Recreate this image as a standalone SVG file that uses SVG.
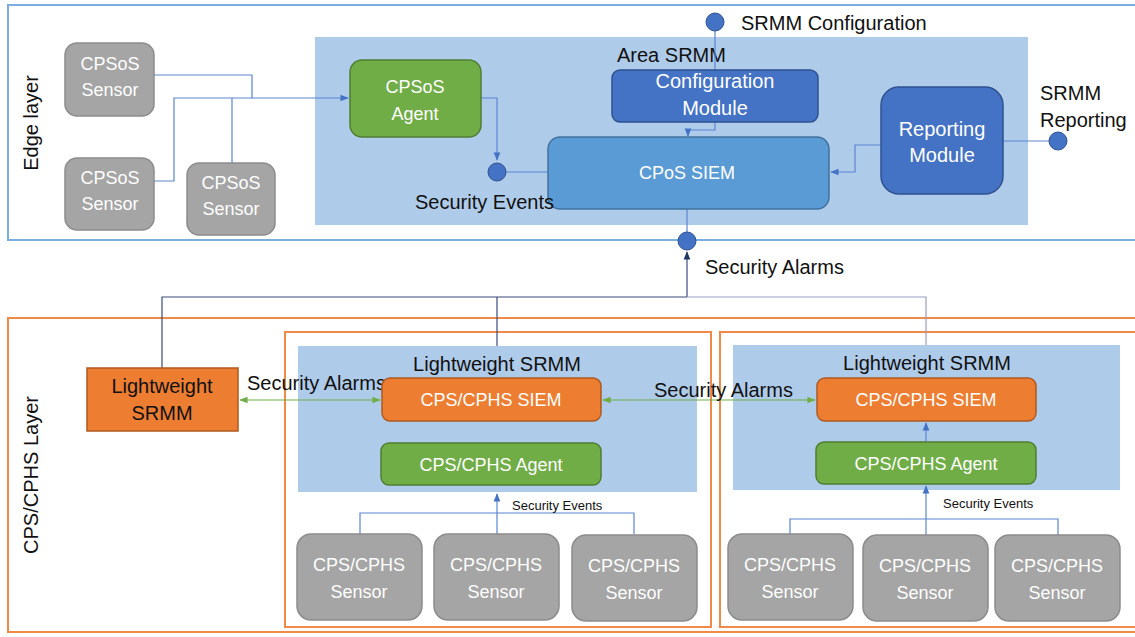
<svg xmlns="http://www.w3.org/2000/svg" width="1135" height="637" viewBox="0 0 1135 637">
<defs>
<marker id="ab" viewBox="0 0 10 10" refX="9" refY="5" markerWidth="7" markerHeight="7" orient="auto-start-reverse"><path d="M0,1 L10,5 L0,9 z" fill="#4472c4"/></marker>
<marker id="an" viewBox="0 0 10 10" refX="9" refY="5" markerWidth="7" markerHeight="7" orient="auto-start-reverse"><path d="M0,1 L10,5 L0,9 z" fill="#203864"/></marker>
<marker id="ag" viewBox="0 0 10 10" refX="9" refY="5" markerWidth="7" markerHeight="7" orient="auto-start-reverse"><path d="M0,1 L10,5 L0,9 z" fill="#70ad47"/></marker>
</defs>
<style>
text{font-family:"Liberation Sans",Arial,sans-serif;}
.w{fill:#fff;font-size:18px;text-anchor:middle;}
.w20{fill:#fff;font-size:20px;text-anchor:middle;}
.k{fill:#111;font-size:20px;}
.kc{fill:#111;font-size:20px;text-anchor:middle;}
.gray{fill:#a5a5a5;stroke:#8c8c8c;stroke-width:1.5;}
.green{fill:#70ad47;stroke:#507e32;stroke-width:1.5;}
.dblue{fill:#4472c4;stroke:#2f528f;stroke-width:1.5;}
.mblue{fill:#5b9bd5;stroke:#41719c;stroke-width:1.5;}
.orange{fill:#ed7d31;stroke:#ae5a21;stroke-width:1.5;}
.panel{fill:#afcbea;}
.c{fill:none;stroke:#5b86d0;stroke-width:1.2;}
.cg{fill:none;stroke:#70ad47;stroke-width:1.2;}
.cn{fill:none;stroke:#3b4a7a;stroke-width:1.2;}
.cl{fill:none;stroke:#9a9fc0;stroke-width:1.2;}
.dot{fill:#4472c4;stroke:#2f528f;stroke-width:1;}
</style>
<rect width="1135" height="637" fill="#fff"/>

<g id="edge-layer">
<rect x="8" y="5" width="1140" height="235" fill="none" stroke="#7aaee0" stroke-width="2"/>
<text class="k" transform="translate(38,123) rotate(-90)" text-anchor="middle">Edge layer</text>
</g>
<g id="area-srmm">
<rect class="panel" x="315" y="37" width="713" height="188"/>
<text class="k" x="617" y="62">Area SRMM</text>
</g>

<g id="cps-layer">
<rect x="8" y="318" width="1140" height="314" fill="none" stroke="#f08a48" stroke-width="2"/>
<text class="k" transform="translate(38,475) rotate(-90)" text-anchor="middle">CPS/CPHS Layer</text>
</g>
<g id="cps-box-1">
<rect x="285" y="332" width="426" height="295" fill="none" stroke="#f08a48" stroke-width="2"/>
<rect class="panel" x="298" y="346" width="399" height="146"/>
<text class="kc" x="497" y="371">Lightweight SRMM</text>
</g>
<g id="cps-box-2">
<rect x="720" y="332" width="430" height="295" fill="none" stroke="#f08a48" stroke-width="2"/>
<rect class="panel" x="733" y="345" width="387" height="145"/>
<text class="kc" x="927" y="370">Lightweight SRMM</text>
</g>

<g id="connectors">
<path class="c" d="M154,75 H252 V98"/>
<path class="c" d="M154,181 H174 V98 H348" marker-end="url(#ab)"/>
<path class="c" d="M232,163 V98"/>
<path class="c" d="M481,98 H497 V160" marker-end="url(#ab)"/>
<path class="c" d="M506,172 H548"/>
<path class="c" d="M715,31 V70"/>
<path class="c" d="M715,122 V130 H688 V136" marker-end="url(#ab)"/>
<path class="c" d="M881,145 H855 V172 H831" marker-end="url(#ab)"/>
<path class="c" d="M1003,141 H1049"/>
<path class="c" d="M687,209 V232"/>
<path class="cn" d="M687,297 V252" marker-end="url(#an)"/>
<path class="cn" d="M162,368 V297 H687"/>
<path class="cn" d="M497,346 V297"/>
<path class="cl" d="M687,297 H926 V345"/>
<path class="cg" d="M240,400 H380" marker-start="url(#ag)" marker-end="url(#ag)"/>
<path class="cg" d="M603,400 H815" marker-start="url(#ag)" marker-end="url(#ag)"/>
<path class="c" d="M926,442 V423" marker-end="url(#ab)"/>
<path class="c" d="M360,534 V513 H634 V534"/>
<path class="c" d="M497,534 V494" marker-end="url(#ab)"/>
<path class="c" d="M790,535 V519 H1058 V535"/>
<path class="c" d="M926,535 V486" marker-end="url(#ab)"/>
</g>

<g id="cpsos-sensor-1"><rect class="gray" x="65" y="43" width="89" height="73" rx="12"/><text class="w" x="110" y="70">CPSoS</text><text class="w" x="110" y="96">Sensor</text></g>
<g id="cpsos-sensor-2"><rect class="gray" x="65" y="158" width="89" height="72" rx="12"/><text class="w" x="110" y="184">CPSoS</text><text class="w" x="110" y="210">Sensor</text></g>
<g id="cpsos-sensor-3"><rect class="gray" x="187" y="163" width="88" height="72" rx="12"/><text class="w" x="231" y="189">CPSoS</text><text class="w" x="231" y="215">Sensor</text></g>
<g id="cpsos-agent"><rect class="green" x="350" y="60" width="131" height="77" rx="12"/><text class="w" x="415" y="93">CPSoS</text><text class="w" x="415" y="120">Agent</text></g>
<g id="config-module"><rect class="dblue" x="612" y="70" width="206" height="52" rx="8"/><text class="w20" x="715" y="88">Configuration</text><text class="w20" x="715" y="115">Module</text></g>
<g id="cpos-siem"><rect class="mblue" x="548" y="137" width="281" height="72" rx="12"/><text class="w" x="687" y="179">CPoS SIEM</text></g>
<g id="reporting-module"><rect class="dblue" x="881" y="87" width="122" height="107" rx="18"/><text class="w20" x="942" y="136">Reporting</text><text class="w20" x="942" y="162">Module</text></g>

<g id="srmm-config"><circle class="dot" cx="715" cy="22" r="9"/><text class="k" x="741" y="30">SRMM Configuration</text></g>
<g id="srmm-reporting"><circle class="dot" cx="1058" cy="141" r="9"/><text class="k" x="1040" y="100">SRMM</text><text class="k" x="1040" y="127">Reporting</text></g>
<g id="security-events-port"><circle class="dot" cx="497" cy="172" r="9"/><text class="k" x="415" y="209">Security Events</text></g>
<g id="security-alarms-port"><circle class="dot" cx="687" cy="241" r="9"/><text class="k" x="705" y="274">Security Alarms</text></g>

<g id="lightweight-srmm"><rect class="orange" x="87" y="368" width="151" height="63"/><text class="kc" x="162" y="393">Lightweight</text><text class="kc" x="162" y="420">SRMM</text></g>
<g id="alarm-label-1"><text class="k" x="247" y="390">Security Alarms</text></g>
<g id="alarm-label-2"><text class="k" x="654" y="397">Security Alarms</text></g>

<g id="cps-siem-1"><rect class="orange" x="382" y="378" width="219" height="43" rx="8"/><text class="w" x="491" y="406">CPS/CPHS SIEM</text></g>
<g id="cps-agent-1"><rect class="green" x="381" y="443" width="220" height="42" rx="8"/><text class="w" x="491" y="471">CPS/CPHS Agent</text></g>
<g id="cps-siem-2"><rect class="orange" x="817" y="378" width="219" height="43" rx="8"/><text class="w" x="926" y="406">CPS/CPHS SIEM</text></g>
<g id="cps-agent-2"><rect class="green" x="816" y="442" width="220" height="42" rx="8"/><text class="w" x="926" y="470">CPS/CPHS Agent</text></g>
<g id="events-label-1"><text fill="#111" font-size="13" x="512" y="510">Security Events</text></g>
<g id="events-label-2"><text fill="#111" font-size="13" x="943" y="508">Security Events</text></g>

<g id="cps-sensor-1a"><rect class="gray" x="297" y="534" width="125" height="86" rx="14"/><text class="w" x="359" y="571">CPS/CPHS</text><text class="w" x="359" y="598">Sensor</text></g>
<g id="cps-sensor-1b"><rect class="gray" x="434" y="534" width="125" height="86" rx="14"/><text class="w" x="496" y="571">CPS/CPHS</text><text class="w" x="496" y="598">Sensor</text></g>
<g id="cps-sensor-1c"><rect class="gray" x="572" y="535" width="125" height="86" rx="14"/><text class="w" x="634" y="572">CPS/CPHS</text><text class="w" x="634" y="599">Sensor</text></g>
<g id="cps-sensor-2a"><rect class="gray" x="728" y="534" width="125" height="86" rx="14"/><text class="w" x="790" y="571">CPS/CPHS</text><text class="w" x="790" y="598">Sensor</text></g>
<g id="cps-sensor-2b"><rect class="gray" x="863" y="535" width="125" height="86" rx="14"/><text class="w" x="925" y="572">CPS/CPHS</text><text class="w" x="925" y="599">Sensor</text></g>
<g id="cps-sensor-2c"><rect class="gray" x="995" y="535" width="125" height="86" rx="14"/><text class="w" x="1057" y="572">CPS/CPHS</text><text class="w" x="1057" y="599">Sensor</text></g>
</svg>
